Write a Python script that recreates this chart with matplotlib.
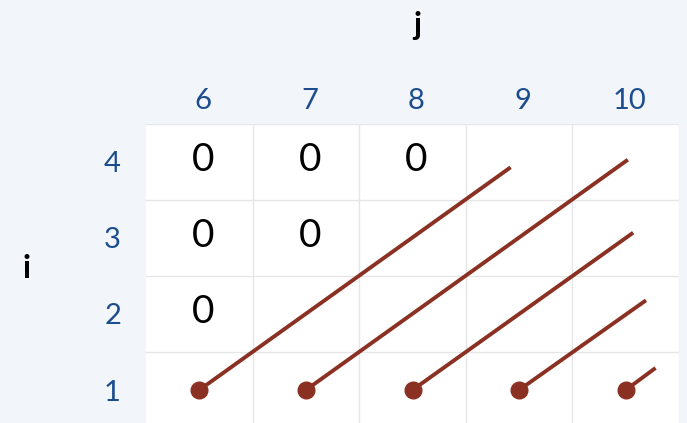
import matplotlib.pyplot as plt
import matplotlib.transforms as mtransforms

plt.rcParams['font.family'] = ['Lato', 'DejaVu Sans']

# columns (j) and rows (i)
j_labels = [6, 7, 8, 9, 10]
i_labels = [1, 2, 3, 4]

# cells holding a 0
zero_i = [4, 4, 4, 3, 3, 2]
zero_j = [6, 7, 8, 6, 7, 6]

# diagonal strokes: start at row 1, end somewhere up-right
start_j = [6, 7, 8, 9, 10]
start_i = [1, 1, 1, 1, 1]
end_j = [8.92, 10.02, 10.07, 10.19, 10.28]
end_i = [3.93, 4.03, 3.07, 2.18, 1.29]

bg = '#f2f5f9'
blue = '#1b4d8e'
red = '#8b3123'

fig = plt.figure(figsize=(6.87, 4.23), dpi=100, facecolor=bg)
ax = fig.add_axes([146 / 687, -5 / 423, 533 / 687, 304 / 423])
ax.set_facecolor('white')
ax.set_xlim(5.5, 10.5)
ax.set_ylim(0.5, 4.5)

# cell grid
for x in range(6, 11):
    ax.axvline(x + 0.5, color='#e6e6e6', lw=1)
for y in range(1, 5):
    ax.axhline(y + 0.5, color='#e6e6e6', lw=1)

for s in ax.spines.values():
    s.set_visible(False)

# text in the reference sits a few px right of the cell centres
shift = mtransforms.ScaledTranslation(4 / 100, 0, fig.dpi_scale_trans)

ax.xaxis.tick_top()
ax.set_xticks(j_labels)
ax.set_xticklabels([str(v) for v in j_labels])
ax.set_yticks(i_labels)
ax.set_yticklabels([str(v) for v in i_labels])
ax.tick_params(axis='x', length=0, pad=7, labelsize=21, labelcolor=blue)
ax.tick_params(axis='y', length=0, pad=18, labelsize=21, labelcolor=blue)
for lab in ax.get_xticklabels():
    lab.set_transform(lab.get_transform() + shift)

for r, c in zip(zero_i, zero_j):
    ax.text(c, r + 0.03, '0', ha='center', va='center', fontsize=28,
            color='black', transform=ax.transData + shift)

for sj, si, ej, ei in zip(start_j, start_i, end_j, end_i):
    ax.plot([sj, ej], [si, ei], color=red, lw=2.8, solid_capstyle='butt')
    ax.plot(sj, si, 'o', color=red, ms=12, mec=red)

fig.text(417 / 687, 1 - 25 / 423, 'j', ha='center', va='center',
         fontsize=23, fontweight='bold', color='black')
fig.text(27 / 687, 1 - 268 / 423, 'i', ha='center', va='center',
         fontsize=23, fontweight='bold', color='black')

fig.savefig('out.png', dpi=100, facecolor=bg)
